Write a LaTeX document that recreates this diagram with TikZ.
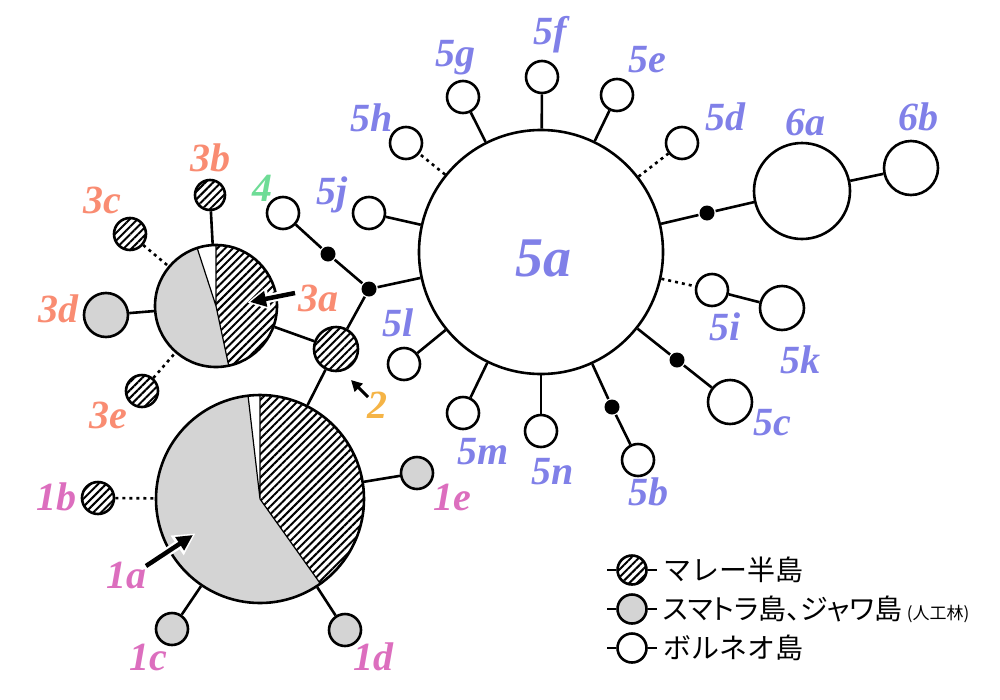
\documentclass[tikz,border=0pt]{standalone}
\usepackage{fontspec}
\setmainfont{Liberation Serif}
\newfontfamily\lblfont{Liberation Serif Bold Italic}
\newfontfamily\jpfont{Noto Sans CJK JP}
\newfontfamily\jpnarrow[RawFeature=+palt]{Noto Sans CJK JP}
\usepackage{xcolor}
\usepackage{tikz}
\usetikzlibrary{arrows.meta,patterns.meta}
\definecolor{hapBlue}{RGB}{128,128,232}
\definecolor{hapSalmon}{RGB}{249,140,114}
\definecolor{hapPink}{RGB}{220,110,190}
\definecolor{hapOrange}{RGB}{245,180,70}
\definecolor{hapGreen}{RGB}{110,220,150}
\definecolor{hapGrey}{RGB}{212,212,212}

\begin{document}
\begin{tikzpicture}[x=1pt,y=-1pt,line width=2.6pt,
  hap/.style={circle,draw,line width=2.6pt,inner sep=0pt,minimum size=#1},
  borneo/.style={hap=#1,fill=white},
  sumatra/.style={hap=#1,fill=hapGrey},
  hatch/.style={pattern={Lines[angle=45,distance=5.5pt,line width=2pt]}},
  malay/.style={hap=#1,preaction={fill=white},hatch},
  mv/.style={circle,fill=black,inner sep=0pt,minimum size=15pt},
  lbl/.style={font=\lblfont\fontsize{40}{40}\selectfont,inner sep=0pt},
  dots/.style={dash pattern=on 3pt off 4pt},
  slice/.style={line width=1.2pt},
  pointer/.style={-{Triangle[length=16pt,width=15pt]},line width=4.5pt},
  halo/.style={-{Triangle[length=22pt,width=22pt]},line width=9pt,white,shorten >=-3pt},
  key/.style={anchor=west,inner sep=0pt,font=\jpfont\fontsize{28}{28}\selectfont}
]
\useasboundingbox (0,0) rectangle (1000,699);

% Borneo cluster
\node[borneo=244pt] (n5a) at (541,252) {};
\node[borneo=96pt] (n6a) at (802,191) {};
\node[borneo=54pt] (n6b) at (911,168) {};
\node[borneo=44pt] (n5k) at (782,308) {};
\node[borneo=44pt] (n5c) at (730,402) {};
\foreach \n/\x/\y in {5d/682/143,5e/617/95,5f/542/77,5g/463/97,5h/406/143,5j/369/213,
                      4/283/213,5i/712/290,5b/638/460,5n/541/431,5m/463/413,5l/404/364}
{
    \node[borneo=32pt] (n\n) at (\x,\y) {};
}
\node[mv] (d6) at (707,213) {};
\node[mv] (d5c) at (677,360) {};
\node[mv] (d5b) at (612,407) {};
\node[mv] (d4) at (328,254) {};
\node[mv] (dj) at (369,289) {};

\draw (n5a) -- (d6) -- (n6a) -- (n6b);
\draw (n5a) -- (d5c) -- (n5c);
\draw (n5a) -- (d5b) -- (n5b);
\draw (n5i) -- (n5k);
\foreach \n in {5e,5f,5g,5j,5l,5m,5n}
{
    \draw (n5a) -- (n\n);
}
\foreach \n in {5d,5h,5i}
{
    \draw[dots] (n5a) -- (n\n);
}

% pie 3a
\coordinate (c3a) at (216,306);
\fill[hapGrey] (c3a) -- ++(-108:61) arc[start angle=-108,end angle=-282,radius=61] -- cycle;
\fill[white] (c3a) -- ++(-90:61) arc[start angle=-90,end angle=-108,radius=61] -- cycle;
\path[hatch] (c3a) -- ++(78:61) arc[start angle=78,end angle=-90,radius=61] -- cycle;
\draw[slice] (c3a) -- ++(-90:61) (c3a) -- ++(-108:61) (c3a) -- ++(78:61);
\node[hap=122pt] (n3a) at (c3a) {};

% pie 1a
\coordinate (c1a) at (260,499);
\fill[hapGrey] (c1a) -- ++(-96.6:104) arc[start angle=-96.6,end angle=-305.5,radius=104] -- cycle;
\fill[white] (c1a) -- ++(-90:104) arc[start angle=-90,end angle=-96.6,radius=104] -- cycle;
\path[hatch] (c1a) -- ++(54.5:104) arc[start angle=54.5,end angle=-90,radius=104] -- cycle;
\draw[slice] (c1a) -- ++(-90:104) (c1a) -- ++(-96.6:104) (c1a) -- ++(54.5:104);
\node[hap=208pt] (n1a) at (c1a) {};

\node[malay=44pt] (n2) at (336,349) {};
\node[malay=30pt] (n3b) at (210,195) {};
\node[malay=32pt] (n3c) at (130,234) {};
\node[sumatra=44pt] (n3d) at (106,315) {};
\node[malay=32pt] (n3e) at (142,391) {};
\node[malay=32pt] (n1b) at (98,498) {};
\node[sumatra=32pt] (n1c) at (172,629) {};
\node[sumatra=32pt] (n1d) at (345,630) {};
\node[sumatra=32pt] (n1e) at (417,473) {};

\draw (n4) -- (d4) -- (dj) -- (n5a);
\draw (dj) -- (n2);
\draw (n2) -- (n3a);
\draw (n2) -- (n1a);
\draw (n3b) -- (n3a);
\draw (n3d) -- (n3a);
\draw[dots] (n3c) -- (n3a);
\draw[dots] (n3e) -- (n3a);
\draw[dots] (n1b) -- (n1a);
\draw (n1c) -- (n1a);
\draw (n1d) -- (n1a);
\draw (n1e) -- (n1a);

% pointers
\coordinate (p3s) at (295,293);
\coordinate (p3e) at (250,302);
\coordinate (p1s) at (146,566);
\coordinate (p1e) at (193,535);
\coordinate (p2s) at (368,397);
\coordinate (p2e) at (351,380);
\draw[halo] (p3s) -- (p3e);
\draw[pointer] (p3s) -- (p3e);
\draw[halo] (p1s) -- (p1e);
\draw[pointer] (p1s) -- (p1e);
\draw[-{Triangle[length=11pt,width=11pt]},line width=3pt] (p2s) -- (p2e);

% labels
\node[lbl,text=hapBlue,font=\lblfont\fontsize{56}{56}\selectfont] (l5a) at (543,258) {5a};
\foreach \t/\x/\y in {6a/805/122,6b/918/117,5d/725/117,5e/647/60,5f/550/35,5g/455/58,
                      5h/372/118,5j/332/195,5i/725/327,5k/800/360,5c/772/423,5b/648/492,
                      5n/553/472,5m/483/452,5l/398/323}
{
    \node[lbl,text=hapBlue] (l\t) at (\x,\y) {\t};
}
\foreach \t/\x/\y in {3a/318/298,3b/210/158,3c/102/200,3d/58/309,3e/108/415}
{
    \node[lbl,text=hapSalmon] (l\t) at (\x,\y) {\t};
}
\foreach \t/\x/\y in {1a/126/575,1b/56/497,1c/148/657,1d/373/657,1e/452/497}
{
    \node[lbl,text=hapPink] (l\t) at (\x,\y) {\t};
}
\node[lbl,text=hapOrange] (l2) at (377,405) {2};
\node[lbl,text=hapGreen] (l4) at (262,188) {4};

% key
\node[malay=29pt] (k1) at (632,570) {};
\node[sumatra=29pt] (k2) at (632,609) {};
\node[borneo=29pt] (k3) at (632,648) {};
\foreach \k in {k1,k2,k3}
{
    \draw (\k.west) -- +(-9,0) (\k.east) -- +(9,0);
}
\node[key] (t1) at (662,570) {マレー半島};
\node[key,font=\jpnarrow\fontsize{28}{28}\selectfont] (t2) at (662,609) {スマトラ島、ジャワ島\,{\fontsize{17}{17}\selectfont(人工林)}};
\node[key] (t3) at (662,648) {ボルネオ島};
\end{tikzpicture}
\end{document}
